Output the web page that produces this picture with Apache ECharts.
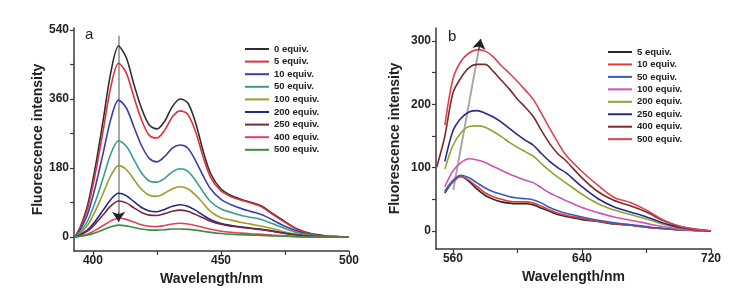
<!DOCTYPE html>
<html>
<head>
<meta charset="utf-8">
<script src="https://cdn.jsdelivr.net/npm/echarts@6/dist/echarts.min.js"></script>
<style>
html, body { margin: 0; padding: 0; background: #fff; }
#chart { width: 754px; height: 298px; }
</style>
</head>
<body>
<div id="chart"></div>
<script>
// panel a: 392-500 nm
const wavesA = [393, 395, 398, 401, 404, 407, 410, 413, 416, 419, 422, 425, 428, 431, 434, 437, 440, 443, 446, 450, 454, 458, 462, 466, 470, 475, 480, 485, 490, 495, 500]
const namesA = ['0 equiv.', '5 equiv.', '10 equiv.', '50 equiv.', '100 equiv.', '200 equiv.', '250 equiv.', '400 equiv.', '500 equiv.']
const colorsA = ['#2e2e2e', '#e0303c', '#3a40a8', '#3b9c92', '#9e9c2c', '#23268a', '#7a2838', '#e2405e', '#3a8c40']
const eq0 = [0, 25, 85, 185, 305, 430, 498, 468, 398, 335, 292, 282, 302, 340, 360, 350, 300, 225, 165, 125, 108, 98, 90, 80, 62, 40, 20, 9, 4, 1, 0]
const eq5 = [0, 23, 77, 168, 278, 392, 453, 428, 365, 305, 265, 258, 278, 313, 329, 320, 276, 210, 155, 120, 105, 96, 88, 78, 60, 38, 19, 8, 3, 1, 0]
const eq10 = [0, 18, 61, 133, 219, 308, 357, 337, 287, 238, 205, 196, 210, 232, 240, 232, 200, 160, 125, 98, 84, 74, 66, 58, 45, 28, 15, 6, 2, 1, 0]
const eq50 = [0, 13, 43, 93, 154, 217, 251, 237, 202, 167, 146, 143, 153, 170, 178, 172, 148, 118, 92, 73, 64, 56, 51, 45, 35, 22, 11, 5, 2, 0, 0]
const eq100 = [0, 9, 32, 69, 114, 160, 186, 176, 150, 124, 109, 106, 114, 126, 131, 126, 110, 88, 66, 50, 44, 38, 33, 28, 22, 13, 7, 3, 1, 0, 0]
const eq200 = [0, 6, 19, 42, 70, 98, 114, 108, 92, 77, 68, 66, 72, 80, 84, 80, 70, 57, 45, 35, 30, 26, 23, 20, 16, 10, 5, 2, 1, 0, 0]
const eq250 = [0, 5, 16, 35, 58, 81, 94, 89, 76, 64, 57, 56, 61, 67, 70, 67, 59, 50, 41, 33, 28, 25, 22, 19, 15, 9, 5, 2, 1, 0, 0]
const eq400 = [0, 2, 8, 18, 30, 42, 49, 46, 39, 32, 28, 27, 30, 34, 36, 34, 30, 25, 20, 15, 12, 10, 8, 7, 5, 3, 1, 0, 0, 0, 0]
const eq500 = [0, 2, 5, 11, 19, 27, 31, 29, 25, 21, 18, 18, 19, 21, 21, 20, 18, 15, 12, 9, 7, 6, 5, 4, 3, 2, 1, 0, 0, 0, 0]
const valuesA = [eq0, eq5, eq10, eq50, eq100, eq200, eq250, eq400, eq500]

// panel b: 550-720 nm
const wavesB = [550, 555, 560, 565, 570, 575, 580, 585, 590, 595, 600, 605, 610, 615, 620, 625, 630, 640, 650, 660, 670, 680, 690, 700, 710, 720]
const namesB = ['5 equiv.', '10 equiv.', '50 equiv.', '100 equiv.', '200 equiv.', '250 equiv.', '400 equiv.', '500 equiv.']
const colorsB = ['#2a2a2a', '#e03a3a', '#3a5cb8', '#d052b4', '#92a232', '#262a8a', '#7a2c2c', '#e2404e']
const b5 = [null, 60, 78, 86, 78, 66, 56, 50, 46, 44, 43, 43, 41, 36, 31, 26, 23, 18, 15, 11, 9, 6, 4, 2, 1, 0]
const b10 = [null, 62, 78, 86, 80, 70, 60, 54, 50, 47, 46, 46, 44, 39, 33, 28, 25, 20, 15, 12, 9, 6, 4, 2, 1, 0]
const b50 = [null, 63, 80, 88, 84, 76, 68, 62, 58, 54, 52, 51, 49, 44, 37, 32, 28, 22, 17, 13, 10, 7, 4, 2, 1, 0]
const b100 = [null, 70, 95, 108, 114, 112, 108, 102, 96, 90, 85, 80, 76, 68, 60, 54, 48, 37, 29, 22, 17, 12, 7, 3, 1, 0]
const b200 = [null, 98, 135, 155, 165, 166, 164, 157, 149, 140, 132, 125, 118, 106, 95, 85, 76, 58, 43, 33, 26, 19, 11, 5, 2, 0]
const b250 = [null, 110, 158, 178, 188, 190, 186, 180, 172, 162, 152, 143, 135, 122, 110, 100, 92, 70, 51, 38, 30, 22, 13, 6, 2, 0]
const b400 = [101, 150, 218, 242, 258, 263, 263, 252, 238, 224, 208, 195, 180, 158, 138, 122, 111, 84, 62, 48, 40, 30, 17, 8, 3, 0]
const b500 = [null, 167, 240, 268, 281, 286, 284, 275, 261, 249, 236, 222, 207, 185, 162, 140, 120, 94, 72, 53, 45, 33, 18, 8, 3, 0]
const valuesB = [b5, b10, b50, b100, b200, b250, b400, b500]

// arrows [x, y] in data units
const arrowA = [[410, 525], [410, 40]]
const arrowB = [[560.2, 65], [577.2, 303]]

const font = "'Liberation Sans', Arial, sans-serif"

const pairs = function (waves, vals) {
    const out = []
    waves.forEach((w, i) => {
        if (vals[i] !== null) out.push([w, vals[i]])
    })
    return out
}

const axisBase = {
    type: 'value',
    splitLine: { show: false },
    axisLine: { onZero: false, lineStyle: { color: '#3a3a3a', width: 1.5 } },
    axisTick: { length: 4, lineStyle: { color: '#3a3a3a', width: 1.2 } },
    axisLabel: { color: '#222', fontSize: 12, fontWeight: 'bold', fontFamily: font },
    nameLocation: 'middle',
    nameTextStyle: { color: '#222', fontSize: 14, fontWeight: 'bold', fontFamily: font }
}

const series = []
namesA.forEach((n, i) => {
    series.push({
        name: n, type: 'line', xAxisIndex: 0, yAxisIndex: 0,
        data: pairs(wavesA, valuesA[i]),
        symbol: 'none', smooth: 0.3,
        lineStyle: { color: colorsA[i], width: 1.6 },
        itemStyle: { color: colorsA[i] }
    })
})
namesB.forEach((n, i) => {
    series.push({
        name: 'b:' + n, type: 'line', xAxisIndex: 1, yAxisIndex: 1,
        data: pairs(wavesB, valuesB[i]),
        symbol: 'none', smooth: 0.3,
        lineStyle: { color: colorsB[i], width: 1.6 },
        itemStyle: { color: colorsB[i] }
    })
})
// gray guide lines with dark arrow heads
const tip = function (a, t) {
    return [[a[0][0] + (a[1][0] - a[0][0]) * t, a[0][1] + (a[1][1] - a[0][1]) * t], a[1]]
}
series.push({
    type: 'lines', coordinateSystem: 'cartesian2d', xAxisIndex: 0, yAxisIndex: 0, z: 1,
    data: [{ coords: arrowA }], lineStyle: { color: '#a8a8a8', width: 2, opacity: 1 }, symbol: 'none'
})
series.push({
    type: 'lines', coordinateSystem: 'cartesian2d', xAxisIndex: 0, yAxisIndex: 0, z: 5,
    data: [{ coords: tip(arrowA, 0.95) }], lineStyle: { color: '#222', width: 1, opacity: 1 },
    symbol: ['none', 'arrow'], symbolSize: [6, 10]
})
series.push({
    type: 'lines', coordinateSystem: 'cartesian2d', xAxisIndex: 1, yAxisIndex: 1, z: 1,
    data: [{ coords: arrowB }], lineStyle: { color: '#a8a8a8', width: 2, opacity: 1 }, symbol: 'none'
})
series.push({
    type: 'lines', coordinateSystem: 'cartesian2d', xAxisIndex: 1, yAxisIndex: 1, z: 5,
    data: [{ coords: tip(arrowB, 0.93) }], lineStyle: { color: '#222', width: 1, opacity: 1 },
    symbol: ['none', 'arrow'], symbolSize: [6, 10]
})

const legendBase = {
    orient: 'vertical',
    padding: 0,
    icon: 'rect',
    itemWidth: 24,
    itemHeight: 2,
    selectedMode: false,
    textStyle: { color: '#222', fontSize: 9.5, fontWeight: 'bold', fontFamily: font, lineHeight: 10 }
}

const option = {
    animation: false,
    backgroundColor: '#fff',
    grid: [
        { left: 74, top: 28, width: 275, height: 223 },
        { left: 436, top: 28, width: 275, height: 221 }
    ],
    xAxis: [
        Object.assign({}, axisBase, {
            gridIndex: 0, min: 392.6, max: 500, name: 'Wavelength/nm', nameGap: 17,
            axisTick: Object.assign({}, axisBase.axisTick, { customValues: [400, 425, 450, 475, 500] }),
            axisLabel: Object.assign({}, axisBase.axisLabel, { margin: 4, customValues: [400, 450, 500] })
        }),
        Object.assign({}, axisBase, {
            gridIndex: 1, min: 549.5, max: 720, name: 'Wavelength/nm', nameGap: 17,
            axisTick: Object.assign({}, axisBase.axisTick, { customValues: [560, 600, 640, 680, 720] }),
            axisLabel: Object.assign({}, axisBase.axisLabel, { margin: 4, customValues: [560, 640, 720] })
        })
    ],
    yAxis: [
        Object.assign({}, axisBase, {
            gridIndex: 0, min: -36.5, max: 545, name: 'Fluorescence intensity', nameGap: 29,
            axisTick: Object.assign({}, axisBase.axisTick, { customValues: [0, 90, 180, 270, 360, 450, 540] }),
            axisLabel: Object.assign({}, axisBase.axisLabel, { margin: 5, customValues: [0, 180, 360, 540] })
        }),
        Object.assign({}, axisBase, {
            gridIndex: 1, min: -28.4, max: 320.5, name: 'Fluorescence intensity', nameGap: 34,
            axisTick: Object.assign({}, axisBase.axisTick, { customValues: [0, 50, 100, 150, 200, 250, 300] }),
            axisLabel: Object.assign({}, axisBase.axisLabel, { margin: 5, customValues: [0, 100, 200, 300] })
        })
    ],
    legend: [
        Object.assign({}, legendBase, { left: 245, top: 44, itemGap: 2.6, data: namesA }),
        Object.assign({}, legendBase, {
            left: 608, top: 47, itemGap: 2.45, data: namesB.map(n => 'b:' + n),
            formatter: name => name.replace(/^b:/, '')
        })
    ],
    graphic: [
        { type: 'text', left: 85, top: 27, style: { text: 'a', font: '15px ' + font, fill: '#222' } },
        { type: 'text', left: 448, top: 29, style: { text: 'b', font: '15px ' + font, fill: '#222' } }
    ],
    series: series
}

const chart = echarts.init(document.getElementById('chart'))
chart.setOption(option)
</script>
</body>
</html>
